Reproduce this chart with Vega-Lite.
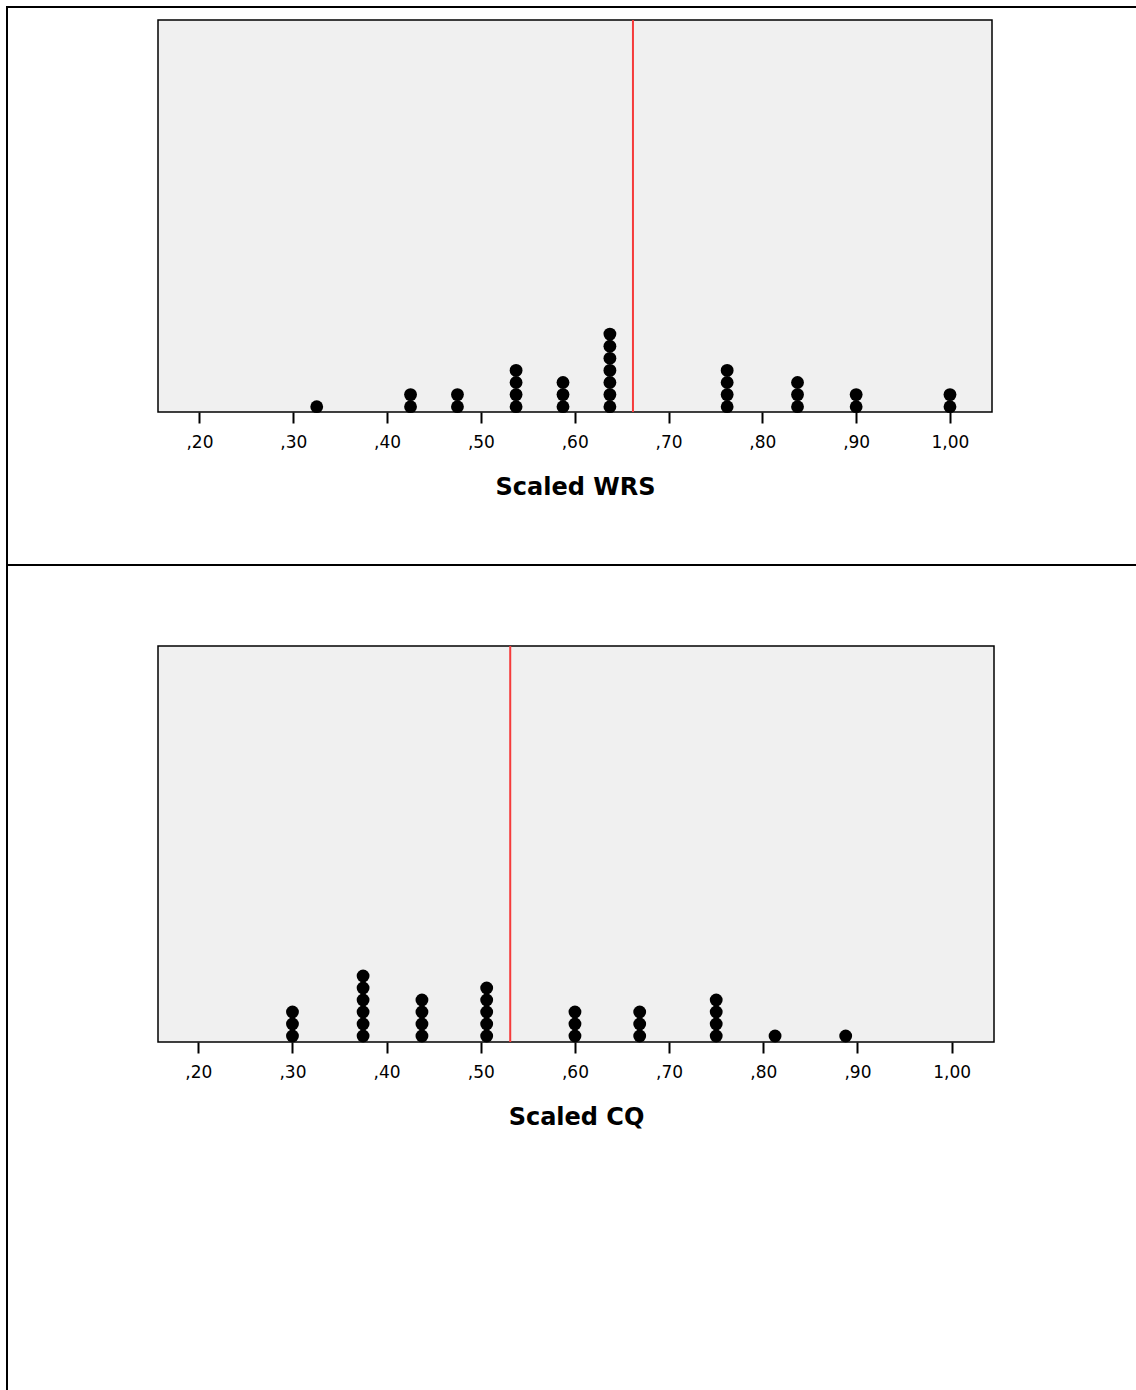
{
  "$schema": "https://vega.github.io/schema/vega-lite/v6.json",
  "background": "white",
  "padding": {"left": 6, "top": 6, "right": 0, "bottom": 0},
  "config": {
    "view": {"stroke": null},
    "concat": {"spacing": 0}
  },
  "bounds": "flush",
  "spacing": 0,
  "hconcat": [
    {
      "width": 2,
      "height": 1384,
      "view": {"fill": "black", "stroke": null},
      "data": {"values": []},
      "mark": "point"
    },
    {
      "columns": 2,
      "bounds": "flush",
      "align": "each",
      "spacing": 0,
      "concat": [
        {"width": 150, "height": 2, "view": {"fill": "black", "stroke": null}, "data": {"values": []}, "mark": "point"},
        {"width": 978, "height": 2, "view": {"fill": "black", "stroke": null}, "data": {"values": []}, "mark": "point"},

        {"width": 150, "height": 12, "data": {"values": []}, "mark": "point"},
        {"width": 978, "height": 12, "data": {"values": []}, "mark": "point"},

        {"width": 150, "height": 392, "data": {"values": []}, "mark": "point"},
        {
          "width": 834,
          "height": 392,
          "view": {"fill": "#f0f0f0", "stroke": "black", "strokeWidth": 1.5},
          "data": {
            "values": [
              {"WRS": 0.325},
              {"WRS": 0.425}, {"WRS": 0.425},
              {"WRS": 0.475}, {"WRS": 0.475},
              {"WRS": 0.5375}, {"WRS": 0.5375}, {"WRS": 0.5375}, {"WRS": 0.5375},
              {"WRS": 0.5875}, {"WRS": 0.5875}, {"WRS": 0.5875},
              {"WRS": 0.6375}, {"WRS": 0.6375}, {"WRS": 0.6375}, {"WRS": 0.6375}, {"WRS": 0.6375}, {"WRS": 0.6375}, {"WRS": 0.6375},
              {"WRS": 0.7625}, {"WRS": 0.7625}, {"WRS": 0.7625}, {"WRS": 0.7625},
              {"WRS": 0.8375}, {"WRS": 0.8375}, {"WRS": 0.8375},
              {"WRS": 0.9}, {"WRS": 0.9},
              {"WRS": 1.0}, {"WRS": 1.0}
            ]
          },
          "layer": [
            {
              "transform": [
                {"window": [{"op": "row_number", "as": "level"}], "groupby": ["WRS"]}
              ],
              "mark": {"type": "circle", "size": 165, "color": "black", "opacity": 1},
              "encoding": {
                "x": {
                  "field": "WRS",
                  "type": "quantitative",
                  "scale": {"domain": [0.1558, 1.0448], "nice": false, "zero": false},
                  "axis": {
                    "title": "Scaled WRS",
                    "values": [0.2, 0.3, 0.4, 0.5, 0.6, 0.7, 0.8, 0.9, 1.0],
                    "labelExpr": "replace(replace(format(datum.value, '.2f'), '0.', ','), '.', ',')",
                    "domain": false,
                    "grid": false,
                    "tickSize": 11,
                    "tickWidth": 2,
                    "tickColor": "black",
                    "labelFlush": false,
                    "labelFont": "DejaVu Sans",
                    "labelFontSize": 17,
                    "labelColor": "black",
                    "labelPadding": 11,
                    "titleFont": "DejaVu Sans",
                    "titleFontSize": 24,
                    "titleFontWeight": "bold",
                    "titleColor": "black",
                    "titlePadding": 25
                  }
                },
                "y": {
                  "field": "level",
                  "type": "quantitative",
                  "scale": {"domain": [0.562, 32.96], "nice": false, "zero": false},
                  "axis": null
                }
              }
            },
            {
              "mark": {"type": "rule", "color": "#f53b3b", "strokeWidth": 2},
              "encoding": {
                "x": {"aggregate": "mean", "field": "WRS", "type": "quantitative"}
              }
            }
          ]
        },

        {"width": 150, "height": 152, "data": {"values": []}, "mark": "point"},
        {"width": 978, "height": 152, "data": {"values": []}, "mark": "point"},

        {"width": 150, "height": 2, "view": {"fill": "black", "stroke": null}, "data": {"values": []}, "mark": "point"},
        {"width": 978, "height": 2, "view": {"fill": "black", "stroke": null}, "data": {"values": []}, "mark": "point"},

        {"width": 150, "height": 80, "data": {"values": []}, "mark": "point"},
        {"width": 978, "height": 80, "data": {"values": []}, "mark": "point"},

        {"width": 150, "height": 396, "data": {"values": []}, "mark": "point"},
        {
          "width": 836,
          "height": 396,
          "view": {"fill": "#f0f0f0", "stroke": "black", "strokeWidth": 1.5},
          "data": {
            "values": [
              {"CQ": 0.3}, {"CQ": 0.3}, {"CQ": 0.3},
              {"CQ": 0.375}, {"CQ": 0.375}, {"CQ": 0.375}, {"CQ": 0.375}, {"CQ": 0.375}, {"CQ": 0.375},
              {"CQ": 0.4375}, {"CQ": 0.4375}, {"CQ": 0.4375}, {"CQ": 0.4375},
              {"CQ": 0.50625}, {"CQ": 0.50625}, {"CQ": 0.50625}, {"CQ": 0.50625}, {"CQ": 0.50625},
              {"CQ": 0.6}, {"CQ": 0.6}, {"CQ": 0.6},
              {"CQ": 0.66875}, {"CQ": 0.66875}, {"CQ": 0.66875},
              {"CQ": 0.75}, {"CQ": 0.75}, {"CQ": 0.75}, {"CQ": 0.75},
              {"CQ": 0.8125},
              {"CQ": 0.8875}
            ]
          },
          "layer": [
            {
              "transform": [
                {"window": [{"op": "row_number", "as": "level"}], "groupby": ["CQ"]}
              ],
              "mark": {"type": "circle", "size": 165, "color": "black", "opacity": 1},
              "encoding": {
                "x": {
                  "field": "CQ",
                  "type": "quantitative",
                  "scale": {"domain": [0.1572, 1.045], "nice": false, "zero": false},
                  "axis": {
                    "title": "Scaled CQ",
                    "values": [0.2, 0.3, 0.4, 0.5, 0.6, 0.7, 0.8, 0.9, 1.0],
                    "labelExpr": "replace(replace(format(datum.value, '.2f'), '0.', ','), '.', ',')",
                    "domain": false,
                    "grid": false,
                    "tickSize": 11,
                    "tickWidth": 2,
                    "tickColor": "black",
                    "labelFlush": false,
                    "labelFont": "DejaVu Sans",
                    "labelFontSize": 17,
                    "labelColor": "black",
                    "labelPadding": 11,
                    "titleFont": "DejaVu Sans",
                    "titleFontSize": 24,
                    "titleFontWeight": "bold",
                    "titleColor": "black",
                    "titlePadding": 25
                  }
                },
                "y": {
                  "field": "level",
                  "type": "quantitative",
                  "scale": {"domain": [0.5, 33.5], "nice": false, "zero": false},
                  "axis": null
                }
              }
            },
            {
              "mark": {"type": "rule", "color": "#f53b3b", "strokeWidth": 2},
              "encoding": {
                "x": {"aggregate": "mean", "field": "CQ", "type": "quantitative"}
              }
            }
          ]
        }
      ]
    }
  ]
}
